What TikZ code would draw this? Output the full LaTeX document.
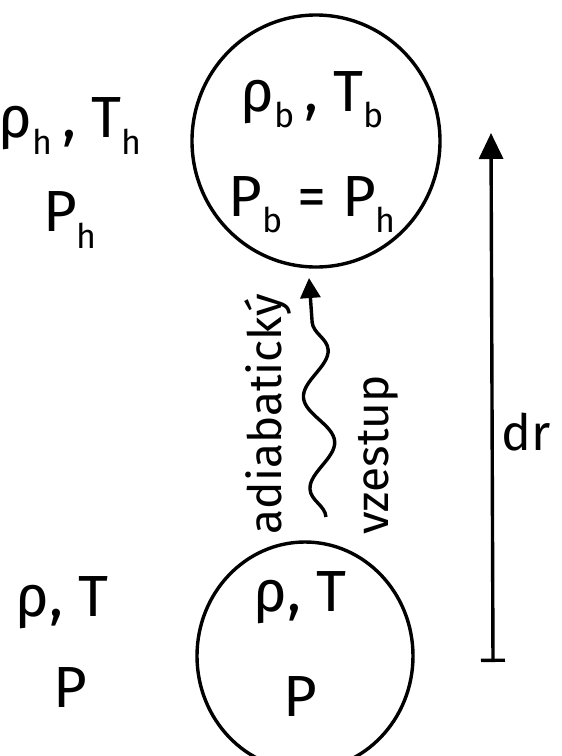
\documentclass[tikz,border=0pt]{standalone}
\usepackage{fontspec}
\setmainfont{Fira Sans}
\usetikzlibrary{arrows.meta,decorations.pathmorphing}
\newcommand{\sbx}[1]{\raisebox{-0.28em}{\fontsize{34}{36}\selectfont #1}}
\tikzset{
  lbl/.style={inner sep=0pt, font=\fontsize{58}{62}\selectfont},
  rot/.style={inner sep=0pt, rotate=90, font=\fontsize{46}{50}\selectfont},
  parcel/.style={draw, line width=3.4pt},
  wavy/.style={line width=3.4pt, -{Triangle[length=20pt,width=20pt]},
    decorate, decoration={snake, segment length=92pt, amplitude=14pt, post length=16pt}},
  measure/.style={line width=3.4pt, {Bar[width=24pt]}-{Triangle[length=26pt,width=24pt]}}
}
\begin{document}
\begin{tikzpicture}[x=1pt,y=-1pt]
\useasboundingbox (0,0) rectangle (562,756);
\clip (0,0) rectangle (562,756);
\fill[white] (0,0) rectangle (562,756);
% parcels
\draw[parcel] (316,141) ellipse [x radius=124, y radius=126];
\draw[parcel] (305,656) ellipse [x radius=108, y radius=114];
% upper texts
\node[lbl] (lup) at (70,126) {ρ\sbx{h}\,, T\sbx{h}};
\node[lbl] (lpu) at (70,220) {P\sbx{h}};
\node[lbl] (iup) at (312,100) {ρ\sbx{b}\,, T\sbx{b}};
\node[lbl] (ipu) at (312,205) {P\sbx{b} = P\sbx{h}};
% lower texts
\node[lbl] (llo) at (62,603) {ρ, T};
\node[lbl] (lpl) at (70,688) {P};
\node[lbl] (ilo) at (300,598) {ρ, T};
\node[lbl] (ipl) at (300,697) {P};
% wavy ascent
\coordinate (ws) at (326,517);
\coordinate (we) at (309,278);
\draw[wavy] (ws) -- (we);
\node[rot] (adia) at (268,414) {adiabatický};
\node[rot] (vzes) at (378,455) {vzestup};
% dr measure
\coordinate (db) at (493,662);
\coordinate (dt) at (491,133);
\draw[measure] (db) -- (dt);
\node[lbl, font=\fontsize{50}{54}\selectfont] (dr) at (526,432) {dr};
\end{tikzpicture}
\end{document}
